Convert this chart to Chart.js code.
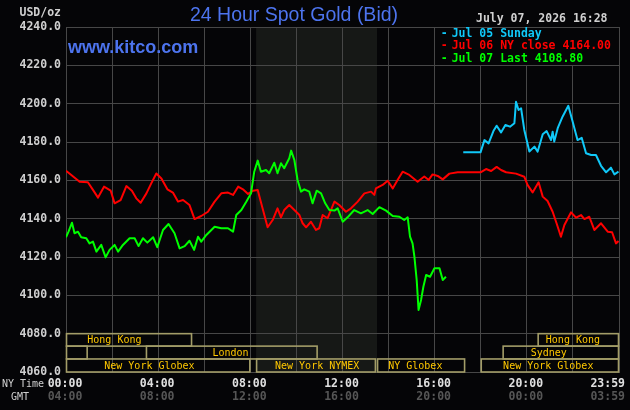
<!DOCTYPE html>
<html><head><meta charset="utf-8">
<script src="https://cdn.jsdelivr.net/npm/chart.js@4.4.1/dist/chart.umd.min.js"></script>
<style>html,body{margin:0;padding:0;background:#050507;overflow:hidden}canvas{display:block}</style>
</head><body>
<canvas id="c" width="630" height="410"></canvas>
<script>
// ---- data (hours NY time, USD/oz) ----
const cyanHours = [17.24,17.99,18.16,18.34,18.55,18.69,18.88,19.07,19.27,19.46,19.53,19.64,19.75,19.89,20.11,20.33,20.47,20.69,20.86,21.05,21.12,21.19,21.34,21.55,21.80,21.99,22.20,22.38,22.57,22.79,23.00,23.22,23.44,23.65,23.80,23.98];
const cyanValues = [4174.6,4174.6,4181.0,4179.3,4185.7,4188.5,4185.0,4188.9,4188.0,4189.8,4201.0,4196.7,4197.6,4186.3,4175.0,4177.6,4175.0,4184.0,4185.7,4181.0,4185.4,4180.2,4187.2,4193.2,4198.9,4190.6,4181.0,4182.2,4174.1,4173.2,4173.2,4167.6,4164.2,4166.6,4163.1,4164.5];

const redHours = [0,0.23,0.59,0.95,1.17,1.39,1.65,1.94,2.11,2.37,2.62,2.86,3.05,3.24,3.49,3.70,3.92,4.14,4.40,4.64,4.86,5.08,5.36,5.58,5.87,6.16,6.45,6.74,7.03,7.25,7.47,7.68,7.90,8.12,8.32,8.53,8.75,8.97,9.18,9.33,9.47,9.69,9.91,10.13,10.27,10.42,10.63,10.85,10.99,11.14,11.35,11.65,11.86,12.15,12.37,12.66,12.95,13.24,13.38,13.45,13.74,13.96,14.18,14.39,14.61,14.90,15.26,15.55,15.74,15.91,16.13,16.35,16.64,17.00,17.36,17.99,18.23,18.45,18.69,18.88,19.10,19.53,19.89,20.03,20.25,20.51,20.69,20.90,21.12,21.29,21.48,21.63,21.92,22.14,22.35,22.50,22.71,22.93,23.22,23.51,23.70,23.87,23.98];
const redValues = [4165.0,4162.8,4159.3,4159.0,4155.0,4151.0,4156.7,4154.6,4148.0,4149.7,4157.0,4154.6,4150.6,4148.3,4153.2,4158.4,4163.6,4161.0,4155.3,4153.6,4148.9,4149.7,4147.1,4139.8,4141.4,4143.6,4148.9,4153.2,4153.6,4152.4,4156.7,4155.3,4152.9,4154.6,4155.0,4145.4,4135.5,4139.3,4145.4,4140.7,4144.5,4147.1,4144.5,4141.9,4137.6,4135.5,4138.4,4134.1,4135.0,4141.9,4140.2,4148.9,4147.1,4143.6,4145.4,4148.9,4153.2,4154.1,4152.4,4155.8,4157.6,4159.8,4155.8,4160.2,4164.5,4162.8,4159.3,4162.0,4160.2,4163.1,4162.3,4160.5,4163.5,4164.2,4164.2,4164.2,4165.9,4164.9,4167.0,4165.4,4164.2,4163.5,4161.9,4157.6,4153.7,4159.0,4151.5,4149.2,4143.6,4137.6,4130.6,4136.7,4143.3,4140.5,4141.9,4139.8,4141.0,4134.1,4137.6,4133.2,4132.9,4127.1,4128.3];

const greenHours = [0,0.11,0.26,0.37,0.52,0.66,0.88,1.02,1.17,1.32,1.53,1.72,1.89,2.11,2.26,2.47,2.76,2.98,3.15,3.34,3.53,3.78,3.96,4.21,4.45,4.71,4.93,5.15,5.36,5.56,5.73,5.87,6.09,6.45,6.74,7.03,7.25,7.39,7.61,7.83,8.03,8.17,8.32,8.46,8.68,8.82,9.04,9.18,9.33,9.47,9.69,9.77,9.91,10.05,10.20,10.34,10.56,10.70,10.88,11.07,11.25,11.43,11.65,11.79,12.01,12.22,12.51,12.80,13.09,13.31,13.60,13.89,14.18,14.47,14.68,14.83,14.93,15.04,15.12,15.22,15.30,15.41,15.51,15.63,15.80,15.99,16.21,16.35,16.49];
const greenValues = [4130.3,4133.2,4137.9,4132.4,4133.2,4130.3,4129.8,4127.1,4128.0,4122.8,4126.3,4119.8,4123.7,4126.3,4122.8,4126.3,4129.8,4129.8,4125.7,4129.8,4127.5,4130.3,4125.1,4134.1,4137.2,4132.4,4124.5,4125.7,4128.5,4123.7,4130.6,4128.0,4131.5,4135.8,4135.0,4135.0,4133.2,4141.9,4144.5,4148.9,4153.2,4164.5,4170.3,4164.5,4165.4,4163.7,4169.2,4163.7,4168.9,4166.3,4171.5,4175.5,4170.6,4160.2,4154.1,4155.3,4154.1,4148.0,4154.6,4153.2,4148.0,4144.5,4144.2,4145.4,4138.4,4140.7,4144.5,4142.8,4144.5,4142.4,4146.0,4144.2,4141.4,4141.0,4139.3,4140.7,4130.6,4127.1,4120.2,4108.0,4092.4,4097.6,4104.5,4110.6,4109.7,4114.1,4114.1,4108.0,4109.7];

const seriesLabels = ['Jul 05 Sunday','Jul 06 NY close 4164.00','Jul 07 Last 4108.80'];
const tickHours = [0,4,8,12,16,20,24];
const nyTickLabels = ['00:00','04:00','08:00','12:00','16:00','20:00','23:59'];
const gmtTickLabels = ['04:00','08:00','12:00','16:00','20:00','00:00','03:59'];
const yMin = 4060, yMax = 4240, yStep = 20;
const shadeStart = 8.25, shadeEnd = 13.5;
// sessions: label, start hour, end hour, row, label centre hour
const sessionNames = ['Hong Kong','','London','New York Globex','New York NYMEX','NY Globex','New York Globex','Sydney','Hong Kong'];
const sessionStart = [0,0,3.47,0,8.25,13.5,18.0,18.95,20.47];
const sessionEnd   = [5.47,0.94,10.92,8.0,13.45,17.32,24,24,24];
const sessionRow   = [0,1,1,2,2,2,2,1,0];
const sessionText  = [2.1,0,7.14,3.62,10.9,15.16,20.93,20.95,22.0];
const rowEdges = [4080,4073.5,4066.8,4060];

const titleText = '24 Hour Spot Gold (Bid)';
const siteText = 'www.kitco.com';
const unitText = 'USD/oz';
const dateText = 'July 07, 2026 16:28';

const colors = ['#10c8f8','#ff0000','#00ff00'];
const pts = (h,v)=>h.map((x,i)=>({x:x,y:v[i]}));
const MONO = '"DejaVu Sans Mono", monospace';
const SANS = '"Liberation Sans", Arial, sans-serif';
const GRID = '#474747';

const gfx = {
  id:'gfx',
  beforeDraw(chart){
    const {ctx, chartArea:a, scales:{x}} = chart;
    ctx.save();
    ctx.fillStyle = '#050507';
    ctx.fillRect(0,0,chart.width,chart.height);
    const x0 = x.getPixelForValue(shadeStart), x1 = x.getPixelForValue(shadeEnd);
    ctx.fillStyle = '#161816';
    ctx.fillRect(x0, a.top, x1-x0, a.bottom-a.top);
    ctx.restore();
  },
  afterDatasetsDraw(chart){
    const {ctx, scales:{x,y}} = chart;
    ctx.save();
    // legend box (cells covered black)
    const lx0 = x.getPixelForValue(16), lx1 = x.getPixelForValue(24);
    const ly0 = y.getPixelForValue(4240), ly1 = y.getPixelForValue(4220);
    ctx.fillStyle = '#050507';
    ctx.fillRect(Math.round(lx0)+1, Math.round(ly0)+1, Math.round(lx1)-Math.round(lx0)-1, Math.round(ly1)-Math.round(ly0)-1);
    ctx.font = 'bold 11.5px ' + MONO;
    ctx.textBaseline = 'middle';
    ctx.textAlign = 'left';
    const lys = [34, 46.5, 59];
    chart.data.datasets.forEach((ds,i)=>{
      ctx.fillStyle = ds.borderColor;
      ctx.fillText('-', lx0+6, lys[i]);
      ctx.fillText(ds.label, lx0+17, lys[i]);
    });
    // sessions
    ctx.strokeStyle = '#a39d68';
    ctx.lineWidth = 1.6;
    ctx.font = '10px ' + MONO;
    ctx.fillStyle = '#ffc800';
    ctx.textAlign = 'center';
    for (let i=0;i<sessionNames.length;i++){
      const r = sessionRow[i];
      const sx0 = x.getPixelForValue(sessionStart[i]), sx1 = x.getPixelForValue(sessionEnd[i]);
      const sy0 = y.getPixelForValue(rowEdges[r]), sy1 = y.getPixelForValue(rowEdges[r+1]);
      ctx.strokeRect(sx0+0.5, sy0, sx1-sx0-1, sy1-sy0);
      if (sessionNames[i]) ctx.fillText(sessionNames[i], x.getPixelForValue(sessionText[i]), (sy0+sy1)/2+0.5);
    }
    ctx.restore();
  },
  afterDraw(chart){
    const {ctx, scales:{x}} = chart;
    ctx.save();
    ctx.textBaseline = 'middle';
    // title
    ctx.fillStyle = '#4d74ee';
    ctx.font = '19.5px ' + SANS;
    ctx.textAlign = 'center';
    ctx.fillText(titleText, 294, 16);
    ctx.font = 'bold 18px ' + SANS;
    ctx.textAlign = 'left';
    ctx.fillText(siteText, 68, 48.5);
    // unit & date
    ctx.fillStyle = '#d0d0d0';
    ctx.font = 'bold 11.5px ' + MONO;
    ctx.textAlign = 'right';
    ctx.fillText(unitText, 61, 13);
    ctx.textAlign = 'left';
    ctx.fillText(dateText, 476, 19.5);
    // x labels
    ctx.font = '10px ' + MONO;
    ctx.fillStyle = '#d0d0d0';
    ctx.textAlign = 'left';
    ctx.fillText('NY Time', 2, 384);
    ctx.fillText('GMT', 11, 397);
    ctx.font = 'bold 11.5px ' + MONO;
    tickHours.forEach((h,i)=>{
      const px = x.getPixelForValue(h);
      const last = i === tickHours.length-1;
      ctx.textAlign = last ? 'right' : 'center';
      const tx = last ? px+6 : px-1;
      ctx.fillStyle = '#e0e0e0';
      ctx.fillText(nyTickLabels[i], tx, 384);
      ctx.fillStyle = '#565656';
      ctx.fillText(gmtTickLabels[i], tx, 397.5);
    });
    ctx.restore();
  }
};

new Chart(document.getElementById('c'), {
  type:'line',
  data:{
    datasets:[
      {label:seriesLabels[0], data:pts(cyanHours,cyanValues), borderColor:colors[0], order:1},
      {label:seriesLabels[1], data:pts(redHours,redValues), borderColor:colors[1], order:2},
      {label:seriesLabels[2], data:pts(greenHours,greenValues), borderColor:colors[2], order:0}
    ]
  },
  options:{
    responsive:false,
    devicePixelRatio:1,
    animation:false,
    parsing:true,
    elements:{line:{borderWidth:2, tension:0, fill:false, borderJoinStyle:'round'}, point:{radius:0}},
    layout:{padding:{left:0,right:11,top:27,bottom:0}},
    plugins:{legend:{display:false}, tooltip:{enabled:false}, title:{display:false}},
    scales:{
      x:{type:'linear', min:0, max:24, position:'bottom',
         ticks:{display:false, stepSize:2},
         grid:{color:GRID, lineWidth:1, drawTicks:false},
         border:{display:true, color:GRID},
         afterFit(s){ s.height = 38; }},
      y:{type:'linear', min:yMin, max:yMax,
         ticks:{stepSize:yStep, callback:v=>v.toFixed(1), color:'#d0d0d0', padding:5,
                font:{family:'DejaVu Sans Mono', size:11.5, weight:'bold'}},
         grid:{color:GRID, lineWidth:1, drawTicks:false},
         border:{display:true, color:GRID},
         afterFit(s){ s.width = 66; }}
    }
  },
  plugins:[gfx]
});
</script>
</body></html>
